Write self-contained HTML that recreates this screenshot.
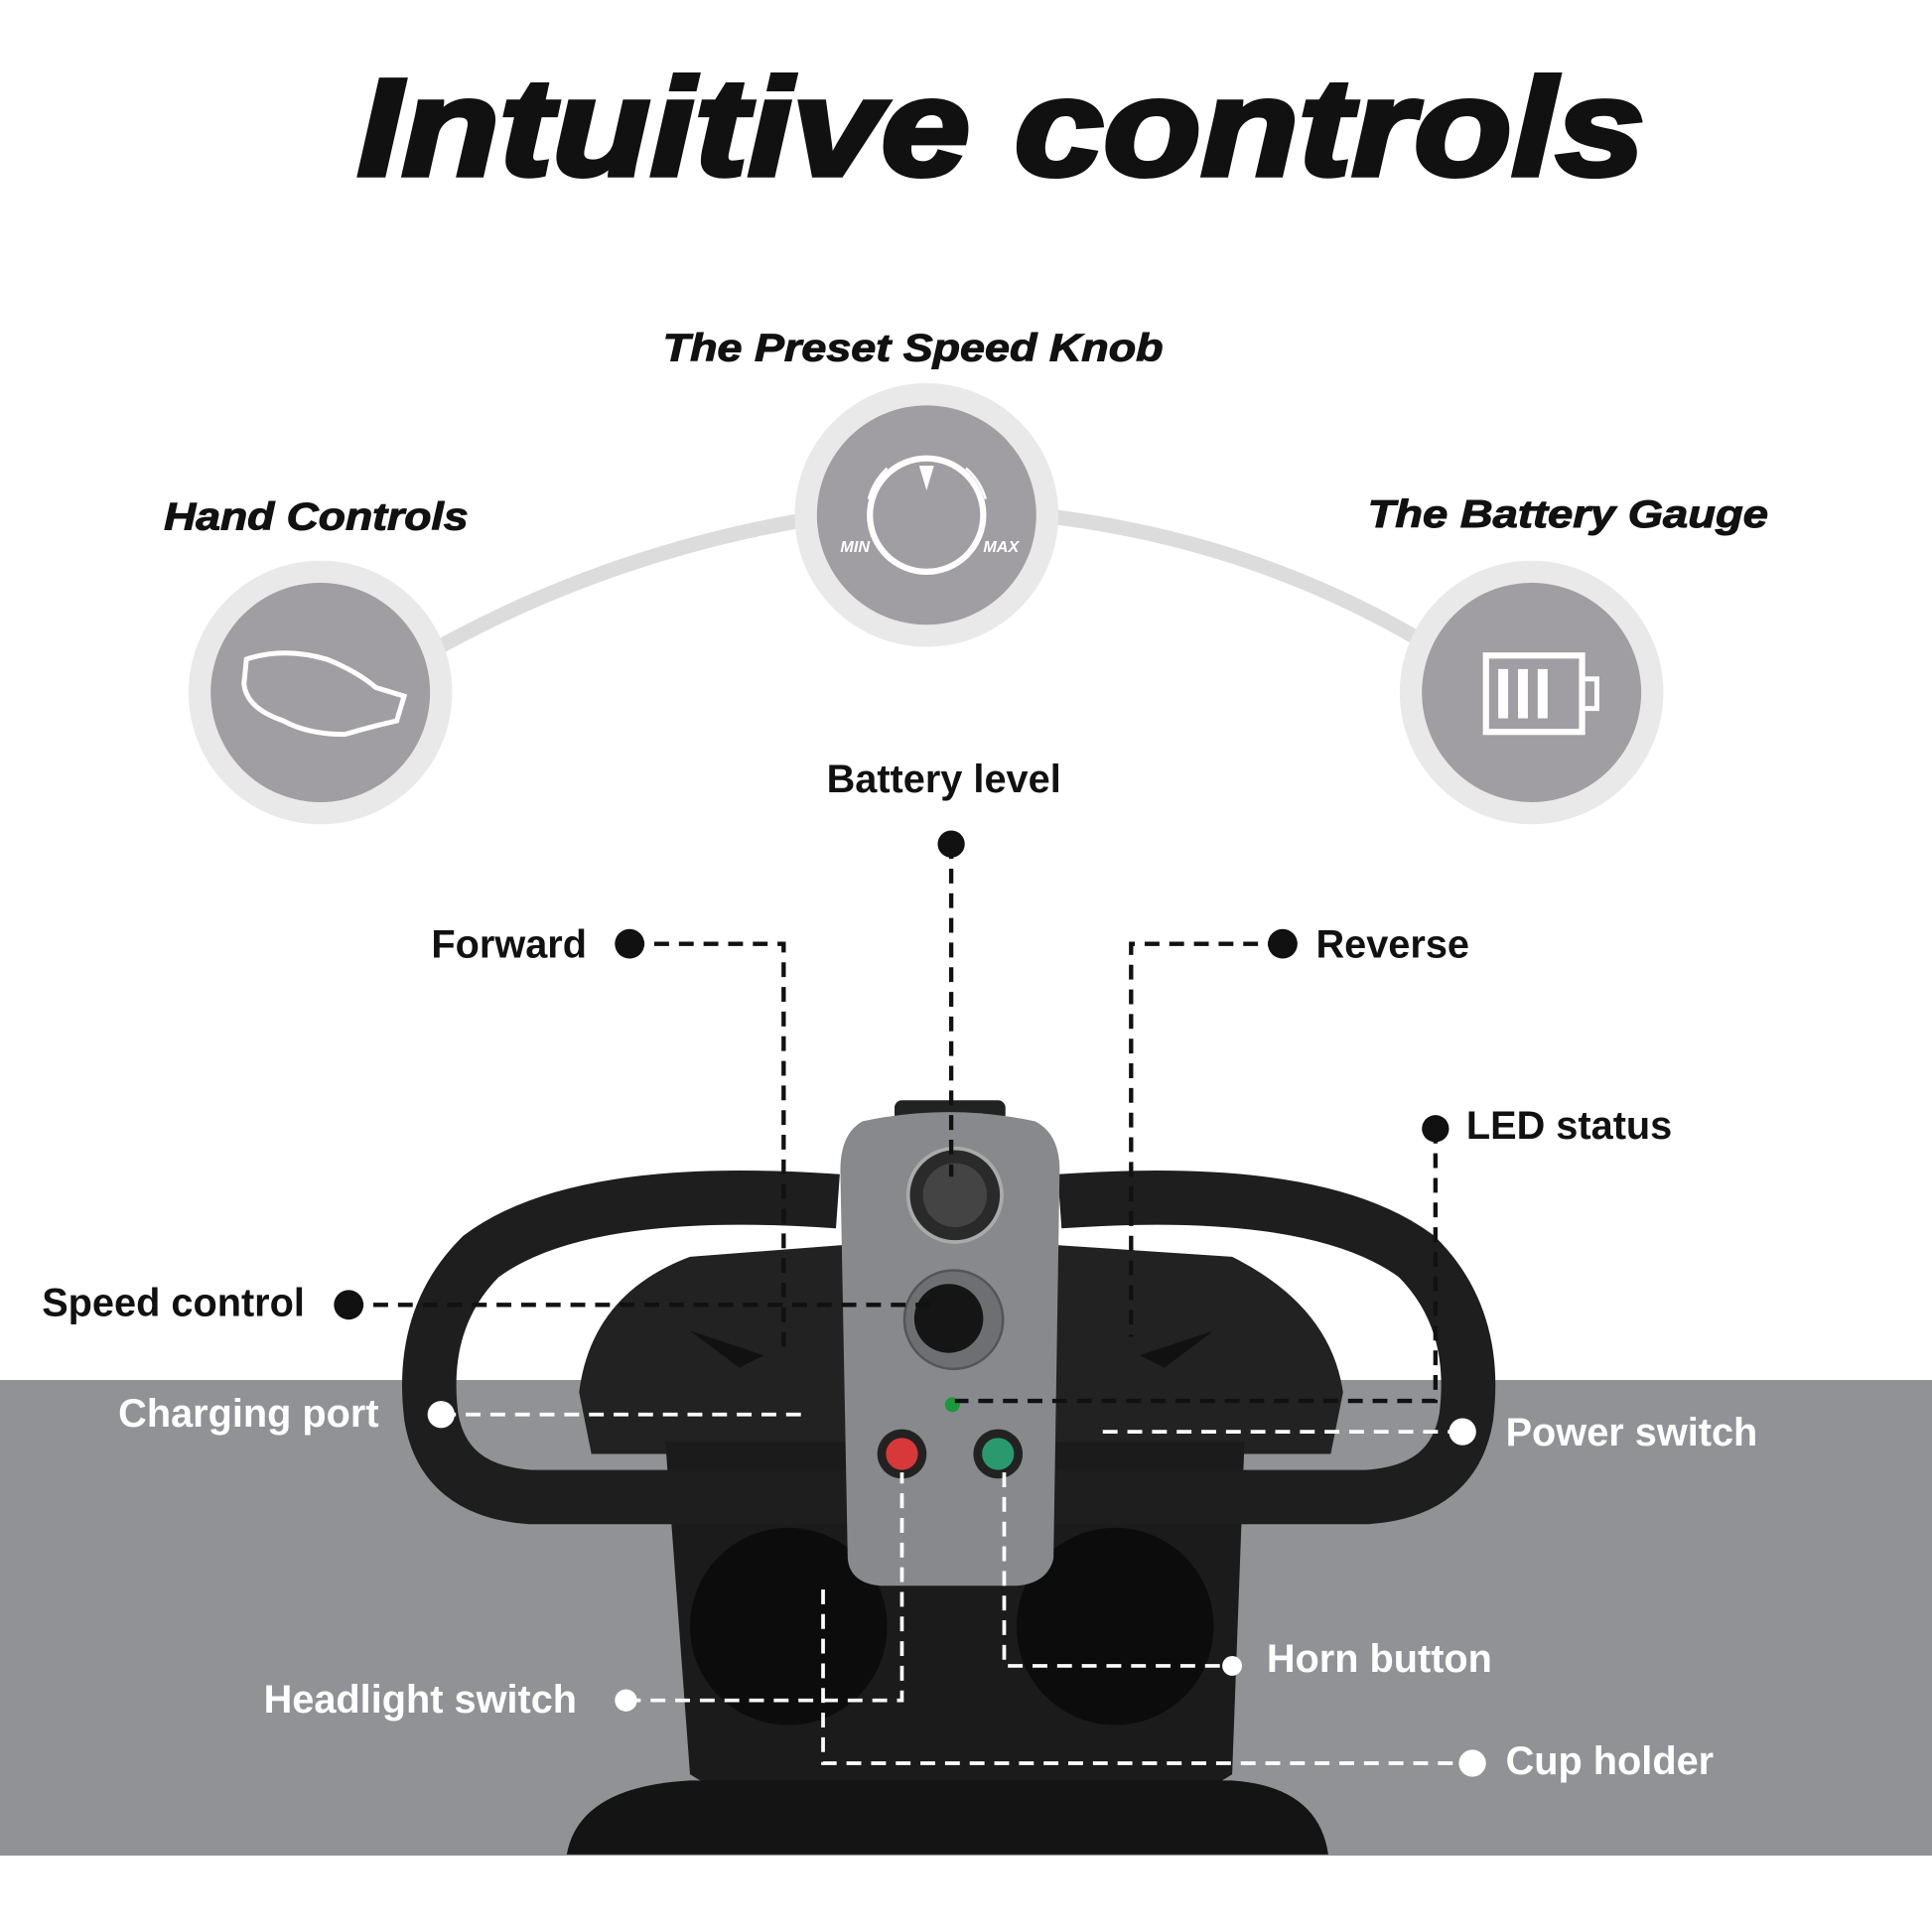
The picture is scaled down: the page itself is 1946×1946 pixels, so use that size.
<!DOCTYPE html>
<html><head><meta charset="utf-8"><style>
html,body{margin:0;padding:0;background:#fff;width:1946px;height:1946px;overflow:hidden}
svg{display:block}
text{font-family:"Liberation Sans",sans-serif;font-weight:bold}
</style></head><body>
<svg width="1946" height="1946" viewBox="0 0 1568 1568" xmlns="http://www.w3.org/2000/svg">
<rect width="1568" height="1568" fill="#fff"/>
<text x="290" y="142" textLength="1045" lengthAdjust="spacingAndGlyphs" font-size="112" font-style="italic" fill="#111" style="font-weight:900" stroke="#111" stroke-width="4">Intuitive controls</text>
<path d="M330 540 Q 500 440 700 415 L 810 415 Q 1010 430 1170 530" fill="none" stroke="#dcdcdc" stroke-width="12"/>
<g>
<circle cx="260" cy="562" r="107" fill="#e9e9e9"/><circle cx="260" cy="562" r="89" fill="#a09ea2"/>
<circle cx="752" cy="418" r="107" fill="#e9e9e9"/><circle cx="752" cy="418" r="89" fill="#a09ea2"/>
<circle cx="1243" cy="562" r="107" fill="#e9e9e9"/><circle cx="1243" cy="562" r="89" fill="#a09ea2"/>
</g>
<path d="M200 535 Q230 525 265 535 Q290 545 305 558 L328 565 L322 585 Q300 590 280 596 Q250 596 230 585 Q200 575 198 555 Z" fill="none" stroke="#fff" stroke-width="4"/>
<circle cx="752" cy="418" r="46" fill="none" stroke="#fff" stroke-width="5"/>
<path d="M746 378 L752 398 L758 378" fill="#fff"/>
<path d="M705 405 A52 52 0 0 1 720 380" fill="none" stroke="#fff" stroke-width="2"/>
<path d="M784 380 A52 52 0 0 1 800 405" fill="none" stroke="#fff" stroke-width="2"/>
<text x="682" y="448" font-size="13" font-style="italic" fill="#fff">MIN</text>
<text x="798" y="448" font-size="13" font-style="italic" fill="#fff">MAX</text>
<rect x="1206" y="532" width="78" height="62" fill="none" stroke="#fff" stroke-width="5"/>
<rect x="1284" y="551" width="12" height="24" fill="none" stroke="#fff" stroke-width="4"/>
<rect x="1216" y="543" width="8" height="40" fill="#fff"/><rect x="1232" y="543" width="8" height="40" fill="#fff"/><rect x="1248" y="543" width="8" height="40" fill="#fff"/>
<g font-style="italic" font-size="31" fill="#111" style="font-weight:900" stroke="#111" stroke-width="0.8">
<text x="538" y="293" textLength="406" lengthAdjust="spacingAndGlyphs">The Preset Speed Knob</text>
<text x="133" y="430" textLength="247" lengthAdjust="spacingAndGlyphs">Hand Controls</text>
<text x="1110" y="428" textLength="325" lengthAdjust="spacingAndGlyphs">The Battery Gauge</text>
</g>
<rect x="0" y="1120" width="1568" height="386" fill="#909295"/>
<path d="M470 1130 Q480 1050 560 1020 L690 1010 L690 1180 L480 1180 Z" fill="#222"/>
<path d="M850 1010 L1000 1020 Q1080 1060 1090 1130 L1080 1180 L850 1180 Z" fill="#222"/>
<path d="M540 1170 L1010 1170 L1000 1440 Q940 1480 780 1480 Q620 1480 560 1440 Z" fill="#1b1b1b"/>
<ellipse cx="640" cy="1320" rx="80" ry="80" fill="#0c0c0c"/>
<ellipse cx="905" cy="1320" rx="80" ry="80" fill="#0c0c0c"/>
<path d="M460 1505 Q470 1450 560 1445 L1000 1445 Q1070 1450 1078 1505 Z" fill="#141414"/>
<path d="M680 975 Q470 960 390 1020 Q340 1070 350 1150 Q360 1210 430 1215 L690 1215" fill="none" stroke="#1e1e1e" stroke-width="44"/>
<path d="M860 975 Q1070 960 1150 1020 Q1200 1070 1190 1150 Q1180 1210 1110 1215 L850 1215" fill="none" stroke="#1e1e1e" stroke-width="44"/>
<path d="M560 1080 L620 1100 L600 1110 Z" fill="#111"/>
<path d="M985 1080 L925 1100 L945 1110 Z" fill="#111"/>
<rect x="726" y="893" width="90" height="18" rx="6" fill="#222"/>
<path d="M700 910 Q770 895 840 910 Q860 920 860 950 L855 1265 Q850 1285 825 1287 L715 1287 Q690 1285 688 1265 L682 950 Q682 920 700 910 Z" fill="#88898d"/>
<circle cx="775" cy="970" r="38" fill="#2a2a2a" stroke="#aaa" stroke-width="3"/>
<circle cx="775" cy="970" r="26" fill="#444"/>
<circle cx="774" cy="1071" r="40" fill="#6e6f72" stroke="#555" stroke-width="2"/>
<circle cx="770" cy="1070" r="28" fill="#151515"/>
<circle cx="773" cy="1140" r="6" fill="#1a9a3a"/>
<circle cx="732" cy="1180" r="20" fill="#222"/><circle cx="732" cy="1180" r="13" fill="#d8383a"/>
<circle cx="810" cy="1180" r="20" fill="#222"/><circle cx="810" cy="1180" r="13" fill="#2a9a6e"/>
<g fill="none" stroke="#111" stroke-width="3.5" stroke-dasharray="12 8">
<path d="M511 766 L636 766 L636 1095"/>
<path d="M1041 766 L918 766 L918 1085"/>
<path d="M772 685 L772 955"/>
<path d="M1165 916 L1165 1137 L775 1137"/>
<path d="M283 1059 L760 1059"/>
</g>
<g fill="#111">
<circle cx="511" cy="766" r="12"/><circle cx="1041" cy="766" r="12"/><circle cx="772" cy="685" r="11"/>
<circle cx="1165" cy="916" r="11"/><circle cx="283" cy="1059" r="12"/>
</g>
<g fill="none" stroke="#fff" stroke-width="3" stroke-dasharray="12 8">
<path d="M358 1148 L655 1148"/>
<path d="M1187 1162 L890 1162"/>
<path d="M815 1195 L815 1352 L1000 1352"/>
<path d="M508 1380 L732 1380 L732 1195"/>
<path d="M668 1290 L668 1431 L1195 1431"/>
</g>
<g fill="#fff">
<circle cx="358" cy="1148" r="11"/><circle cx="1187" cy="1162" r="11"/><circle cx="1000" cy="1352" r="8"/>
<circle cx="508" cy="1380" r="9"/><circle cx="1195" cy="1431" r="11"/>
</g>
<g font-size="32" fill="#111">
<text x="766" y="643" text-anchor="middle">Battery level</text>
<text x="350" y="777">Forward</text>
<text x="1068" y="777">Reverse</text>
<text x="1190" y="924">LED status</text>
<text x="34" y="1068">Speed control</text>
</g>
<g font-size="32" fill="#fff">
<text x="96" y="1158">Charging port</text>
<text x="1222" y="1173">Power switch</text>
<text x="1028" y="1357">Horn button</text>
<text x="214" y="1390">Headlight switch</text>
<text x="1222" y="1440">Cup holder</text>
</g>
</svg>
</body></html>
